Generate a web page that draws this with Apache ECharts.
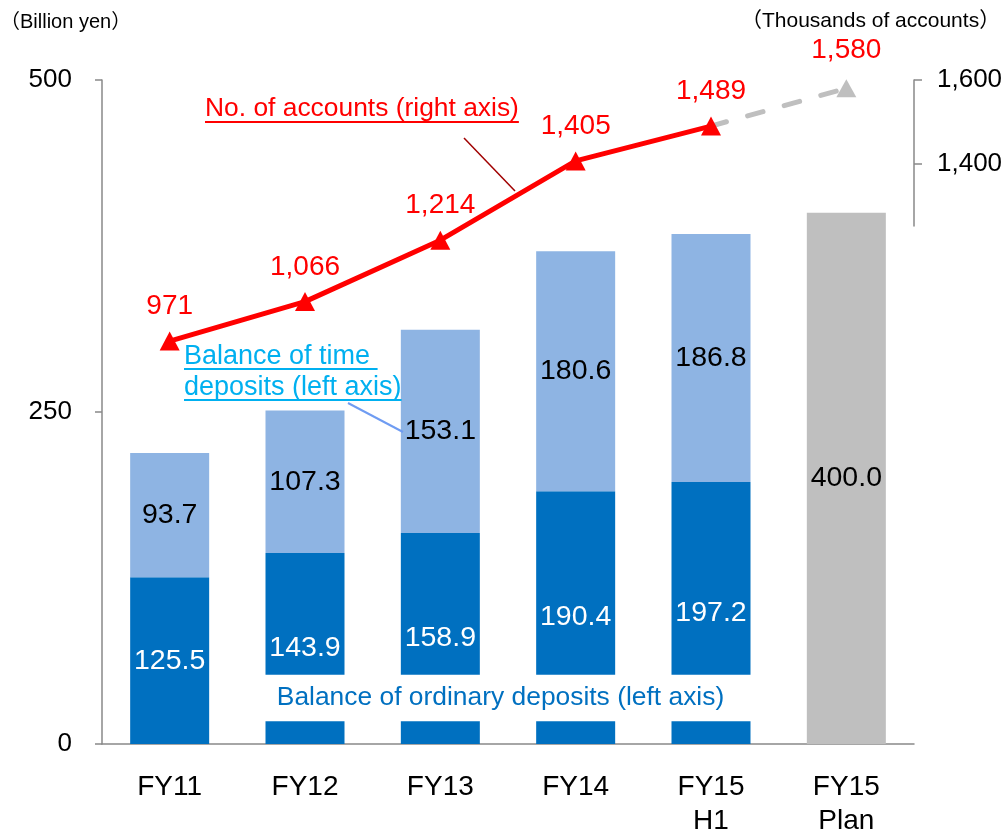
<!DOCTYPE html>
<html lang="en">
<head>
    <meta charset="UTF-8">
    <title>Deposits and accounts</title>
    <script type="text/javascript" src="https://cdn.jsdelivr.net/npm/echarts@6/dist/echarts.min.js"></script>
</head>
<body style="margin:0;">
<div id="main" style="width: 1006px;height: 831px;"></div>

<script type="text/javascript">

    var categories = ['FY11', 'FY12', 'FY13', 'FY14', 'FY15\nH1', 'FY15\nPlan'];
    var ordinaryDeposits = [125.5, 143.9, 158.9, 190.4, 197.2, '-'];
    var timeDeposits = [93.7, 107.3, 153.1, 180.6, 186.8, '-'];
    var planBalance = ['-', '-', '-', '-', '-', 400.0];
    var accounts = [971, 1066, 1214, 1405, 1489, '-'];
    var accountsPlan = ['-', '-', '-', '-', 1489, 1580];
    var rightTicks = [1400, 1600];

    var FONT = '"Liberation Sans", Arial, "Noto Sans CJK JP"';
    var axisGray = '#898989';

    var chart = echarts.init(document.getElementById('main'));

    // width of a text, used to size the underlines
    var ctx = document.createElement('canvas').getContext('2d');
    function textWidth(text, size) {
        ctx.font = size + 'px ' + FONT;
        return ctx.measureText(text).width;
    }

    function fmt1(p) {
        return p.value.toFixed(1);
    }
    function fmtNum(v) {
        return Number(v).toLocaleString('en-US');
    }

    // plan line: only the last point gets an arrow head and a label
    var planData = accountsPlan.map(function (v, i) {
        if (i === accountsPlan.length - 1) {
            return {
                value: v,
                symbol: 'triangle',
                symbolSize: [20, 18],
                label: {show: true, distance: 15}
            };
        }
        return v;
    });

    var barLabel = {
        show: true,
        position: 'inside',
        fontSize: 28.5,
        fontFamily: FONT,
        formatter: fmt1
    };

    var l1 = 'Balance of time ';
    var l2 = 'deposits (left axis)';
    var accText = 'No. of accounts (right axis)';

    var option = {
        animation: false,
        textStyle: {fontFamily: FONT},
        grid: [
            {left: 102, right: 92, top: 80, bottom: 87, outerBoundsMode: 'none'},
            {left: 102, right: 92, top: 80, height: 146, outerBoundsMode: 'none'}
        ],
        xAxis: [
            {
                type: 'category',
                gridIndex: 0,
                data: categories,
                axisLine: {lineStyle: {color: axisGray, width: 1.5}},
                axisTick: {length: 8, lineStyle: {color: axisGray, width: 1.5}},
                axisLabel: {interval: 0, color: '#000', fontSize: 28, lineHeight: 34, margin: 26}
            },
            {type: 'category', gridIndex: 1, data: categories, show: false}
        ],
        yAxis: [
            {
                type: 'value',
                gridIndex: 0,
                min: 0,
                max: 500,
                interval: 250,
                axisLine: {show: true, lineStyle: {color: axisGray, width: 1.5}},
                axisTick: {show: true, length: 7, lineStyle: {color: axisGray, width: 1.5}},
                splitLine: {show: false},
                axisLabel: {color: '#000', fontSize: 26, margin: 30}
            },
            {type: 'value', gridIndex: 0, min: 0, max: 1600, show: false},
            {
                type: 'value',
                gridIndex: 1,
                position: 'right',
                min: 1250,
                max: 1600,
                axisLine: {show: true, lineStyle: {color: axisGray, width: 1.5}},
                axisTick: {show: true, length: 8, customValues: rightTicks, lineStyle: {color: axisGray, width: 1.5}},
                splitLine: {show: false},
                axisLabel: {color: '#000', fontSize: 26, margin: 23, customValues: rightTicks, formatter: fmtNum}
            }
        ],
        series: [
            {
                name: 'Ordinary deposits',
                type: 'bar',
                stack: 'bal',
                barWidth: 79,
                itemStyle: {color: '#0070C0'},
                label: Object.assign({}, barLabel, {color: '#fff'}),
                data: ordinaryDeposits
            },
            {
                name: 'Time deposits',
                type: 'bar',
                stack: 'bal',
                barWidth: 79,
                itemStyle: {color: '#8EB4E3'},
                label: Object.assign({}, barLabel, {color: '#000'}),
                data: timeDeposits
            },
            {
                name: 'Plan',
                type: 'bar',
                stack: 'bal',
                barWidth: 79,
                itemStyle: {color: '#BFBFBF'},
                label: Object.assign({}, barLabel, {color: '#000'}),
                data: planBalance
            },
            {
                name: 'Accounts plan',
                type: 'line',
                yAxisIndex: 1,
                z: 4,
                symbol: 'none',
                itemStyle: {color: '#BFBFBF'},
                lineStyle: {color: '#BFBFBF', width: 5, type: [16, 22], cap: 'round'},
                label: {show: false, position: 'top', color: '#FF0000', fontSize: 28, formatter: function (p) { return fmtNum(p.value); }},
                data: planData
            },
            {
                name: 'Accounts',
                type: 'line',
                yAxisIndex: 1,
                z: 5,
                symbol: 'triangle',
                symbolSize: [20, 19],
                itemStyle: {color: '#FF0000'},
                lineStyle: {color: '#FF0000', width: 5},
                label: {show: true, position: 'top', distance: 11, color: '#FF0000', fontSize: 28, formatter: function (p) { return fmtNum(p.value); }},
                data: accounts
            }
        ],
        graphic: [
            {
                type: 'text', x: 0, y: 22, z: 100,
                style: {text: '（Billion yen）', font: '20px ' + FONT, fill: '#000', verticalAlign: 'middle'}
            },
            {
                type: 'text', x: 741, y: 21, z: 100,
                style: {text: '（Thousands of accounts）', font: '21px ' + FONT, fill: '#000', verticalAlign: 'middle'}
            },
            {
                type: 'text', x: 205, y: 109, z: 100,
                style: {text: accText, font: '26.4px ' + FONT, fill: '#FF0000', verticalAlign: 'middle'}
            },
            {
                type: 'line', z: 100,
                shape: {x1: 205, y1: 122, x2: 205 + textWidth(accText, 26.4), y2: 122},
                style: {stroke: '#FF0000', lineWidth: 2}
            },
            {
                type: 'line', z: 100,
                shape: {x1: 464, y1: 138, x2: 515, y2: 191},
                style: {stroke: '#A00000', lineWidth: 1.5}
            },
            {
                type: 'text', x: 184, y: 341, z: 100,
                style: {text: l1 + '\n' + l2, font: '27px ' + FONT, lineHeight: 31, fill: '#00B0F0', verticalAlign: 'top'}
            },
            {
                type: 'line', z: 100,
                shape: {x1: 184, y1: 369, x2: 184 + textWidth(l1, 27), y2: 369},
                style: {stroke: '#00B0F0', lineWidth: 2}
            },
            {
                type: 'line', z: 100,
                shape: {x1: 184, y1: 400, x2: 184 + textWidth(l2, 27), y2: 400},
                style: {stroke: '#00B0F0', lineWidth: 2}
            },
            {
                type: 'line', z: 100,
                shape: {x1: 348, y1: 403, x2: 403, y2: 432},
                style: {stroke: '#6F9CF2', lineWidth: 2}
            },
            {
                // label box also blanks out the foot of the blue bars
                type: 'text', x: 507, y: 698, z: 100,
                style: {
                    text: 'Balance of ordinary deposits (left axis)',
                    font: '26.4px ' + FONT,
                    fill: '#0070C0',
                    align: 'center',
                    verticalAlign: 'middle',
                    backgroundColor: '#fff',
                    padding: [10, 30, 10, 17]
                }
            }
        ]
    };

    chart.setOption(option);
</script>
</body>
</html>
